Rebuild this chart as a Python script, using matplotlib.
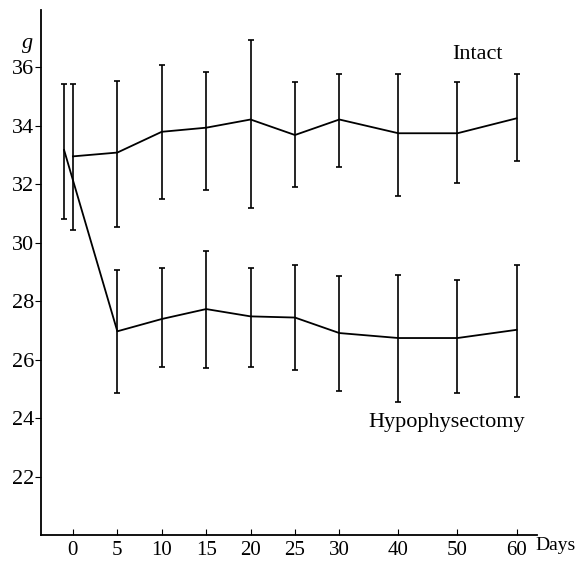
import numpy as np
import matplotlib
matplotlib.use('Agg')
from matplotlib import pyplot as plt

# days (hypophysectomy first point sits just before day 0)
days_intact = [0, 5, 10, 15, 20, 25, 30, 40, 50, 60]
mean_intact = [32.95, 33.08, 33.79, 33.93, 34.21, 33.68, 34.21, 33.74, 33.74, 34.25]
upper_intact = [35.44, 35.52, 36.07, 35.82, 36.92, 35.49, 35.78, 35.78, 35.50, 35.78]
lower_intact = [30.44, 30.52, 31.48, 31.80, 31.20, 31.91, 32.58, 31.60, 32.05, 32.79]

days_hypo = [-1, 5, 10, 15, 20, 25, 30, 40, 50, 60]
mean_hypo = [33.17, 26.97, 27.39, 27.73, 27.48, 27.44, 26.91, 26.74, 26.74, 27.02]
upper_hypo = [35.44, 29.05, 29.13, 29.72, 29.13, 29.23, 28.87, 28.89, 28.71, 29.22]
lower_hypo = [30.81, 24.86, 25.74, 25.73, 25.75, 25.66, 24.92, 24.55, 24.86, 24.72]

xticks = [0, 5, 10, 15, 20, 25, 30, 40, 50, 60]
yticks = [22, 24, 26, 28, 30, 32, 34, 36]

plt.rcParams['font.family'] = ['Liberation Serif', 'DejaVu Serif']


# axis is compressed after day 30
def fwd(d):
    d = np.asarray(d, dtype=float)
    return np.where(d <= 30, d, 30 + (d - 30) * 0.665)


def inv(p):
    p = np.asarray(p, dtype=float)
    return np.where(p <= 30, p, 30 + (p - 30) / 0.665)


fig = plt.figure(figsize=(5.77, 5.61), dpi=100)
ax = fig.add_axes([0.071, 0.046, 0.86, 0.936])
ax.set_xscale('function', functions=(fwd, inv))

for d, m, up, lo in [(days_intact, mean_intact, upper_intact, lower_intact),
                     (days_hypo, mean_hypo, upper_hypo, lower_hypo)]:
    m = np.array(m)
    err = [m - np.array(lo), np.array(up) - m]
    ax.errorbar(d, m, yerr=err, color='black', lw=1.3, elinewidth=1.2,
                capsize=2.5, capthick=1.2)

ax.set_xlim(-3.6, 63.5)
ax.set_ylim(20, 37.95)
ax.set_xticks(xticks)
ax.set_xticklabels([str(t) for t in xticks])
ax.set_yticks(yticks)
ax.set_yticklabels([str(t) for t in yticks])
ax.tick_params(axis='x', direction='in', length=4, labelsize=15, pad=4)
ax.tick_params(axis='y', direction='out', length=4, labelsize=16, pad=1)
ax.spines['top'].set_visible(False)
ax.spines['right'].set_visible(False)
ax.spines['left'].set_linewidth(1.3)
ax.spines['bottom'].set_linewidth(1.3)

ax.text(53.4, 36.44, 'Intact', fontsize=16, ha='center', va='center')
ax.text(48.1, 23.85, 'Hypophysectomy', fontsize=16, ha='center', va='center')
fig.text(0.047, 0.923, 'g', fontsize=16, style='italic', ha='center', va='center')
fig.text(0.998, 0.028, 'Days', fontsize=14, ha='right', va='center')

fig.savefig('out.png', dpi=100)
